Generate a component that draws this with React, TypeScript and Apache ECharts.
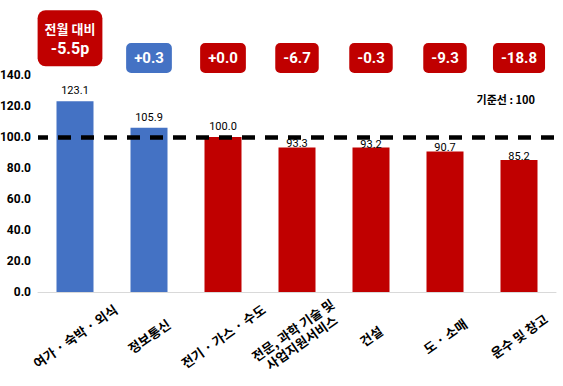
import React, { useEffect, useRef } from "react";
import * as echarts from "echarts";

const categories = [
  "여가 · 숙박 · 외식",
  "정보통신",
  "전기 · 가스 · 수도",
  "전문, 과학 기술 및\n사업지원서비스",
  "건설",
  "도 · 소매",
  "운수 및 창고",
];
const values = [123.1, 105.9, 100.0, 93.3, 93.2, 90.7, 85.2];
const deltaLabels = ["", "+0.3", "+0.0", "-6.7", "-0.3", "-9.3", "-18.8"];
const deltaValues = [null, 0.3, 0.0, -6.7, -0.3, -9.3, -18.8];
const headlineTitle = "전월 대비";
const headlineValue = "-5.5p";
const baseline = 100;
const baselineText = "기준선 : 100";
const yTicks = { min: 0, max: 140, interval: 20 };

const BLUE = "#4472C4";
const RED = "#C00000";
const NUM = "Roboto, 'Noto Sans CJK KR', sans-serif";
const KR = "'Noto Sans CJK KR', sans-serif";

export default function App() {
  const ref = useRef<HTMLDivElement>(null);
  useEffect(() => {
    if (!ref.current) return;
    const chart = echarts.init(ref.current, undefined, { renderer: "svg" });

    const barData = values.map((v) => ({
      value: v,
      itemStyle: { color: v > baseline ? BLUE : RED },
      label: { distance: v >= baseline ? 5 : -2 },
    }));

    const boxData: any[] = categories.map((c, i) => {
      if (i === 0) {
        return {
          value: [c, 0.49],
          label: {
            formatter: `{a|${headlineTitle}}\n{b|${headlineValue}}`,
            backgroundColor: RED,
            offset: [-5, 0],
            padding: [8, 7, 8, 7],
            borderRadius: 8,
            rich: {
              a: { color: "#fff", fontFamily: KR, fontSize: 13, fontWeight: "bold", lineHeight: 20, align: "center" },
              b: { color: "#fff", fontFamily: NUM, fontSize: 16, fontWeight: "bold", lineHeight: 20, align: "center" },
            },
          },
        };
      }
      const d = deltaValues[i] as number;
      return {
        value: [c, 0.227],
        label: {
          formatter: deltaLabels[i],
          backgroundColor: d > 0 ? BLUE : RED,
        },
      };
    });

    chart.setOption({
      animation: false,
      backgroundColor: "#fff",
      grid: [
        { left: 38, right: 7, top: 75, bottom: 94, outerBoundsMode: "none", containLabel: false },
        { left: 38, right: 7, top: 0, height: 75, outerBoundsMode: "none", containLabel: false },
      ],
      xAxis: [
        {
          type: "category",
          data: categories,
          gridIndex: 0,
          axisLine: { lineStyle: { color: "#d9d9d9", width: 1 } },
          axisTick: { show: false },
          axisLabel: {
            interval: 0,
            rotate: 35,
            align: "center",
            margin: 44,
            color: "#000",
            fontFamily: KR,
            fontWeight: "bold",
            fontSize: 13,
            lineHeight: 15,
          },
        },
        {
          type: "category",
          data: categories,
          gridIndex: 1,
          show: false,
        },
      ],
      yAxis: [
        {
          type: "value",
          gridIndex: 0,
          min: yTicks.min,
          max: yTicks.max,
          interval: yTicks.interval,
          axisLine: { show: false },
          axisTick: { show: false },
          splitLine: { show: false },
          axisLabel: {
            margin: 7,
            color: "#000",
            fontFamily: NUM,
            fontWeight: "bold",
            fontSize: 12,
            formatter: (v: number) => v.toFixed(1),
          },
        },
        { type: "value", gridIndex: 1, min: 0, max: 1, show: false },
      ],
      series: [
        {
          type: "bar",
          xAxisIndex: 0,
          yAxisIndex: 0,
          data: barData,
          barWidth: "50%",
          label: {
            show: true,
            position: "top",
            color: "#000",
            fontFamily: NUM,
            fontSize: 11,
            formatter: (p: any) => Number(p.value).toFixed(1),
          },
          markLine: {
            silent: true,
            symbol: "none",
            label: { show: false },
            lineStyle: { color: "#000", width: 4.5, type: [13, 10], dashOffset: 3, opacity: 1 },
            data: [{ yAxis: baseline }],
          },
        },
        {
          type: "scatter",
          xAxisIndex: 1,
          yAxisIndex: 1,
          symbolSize: 0,
          silent: true,
          itemStyle: { opacity: 1 },
          data: boxData,
          label: {
            show: true,
            position: "inside",
            color: "#fff",
            opacity: 1,
            fontFamily: NUM,
            fontSize: 15,
            fontWeight: "bold",
            padding: [6, 8, 6, 8],
            borderRadius: 5,
            lineHeight: 18,
          },
        },
      ],
      graphic: [
        {
          type: "text",
          right: 28,
          top: 93,
          style: {
            text: baselineText,
            fill: "#000",
            font: `bold 11px ${KR}`,
          },
        },
      ],
    });
    return () => chart.dispose();
  }, []);
  return (
    <div
      ref={ref}
      style={{ position: "fixed", left: 0, top: 0, width: 563, height: 386 }}
    />
  );
}
